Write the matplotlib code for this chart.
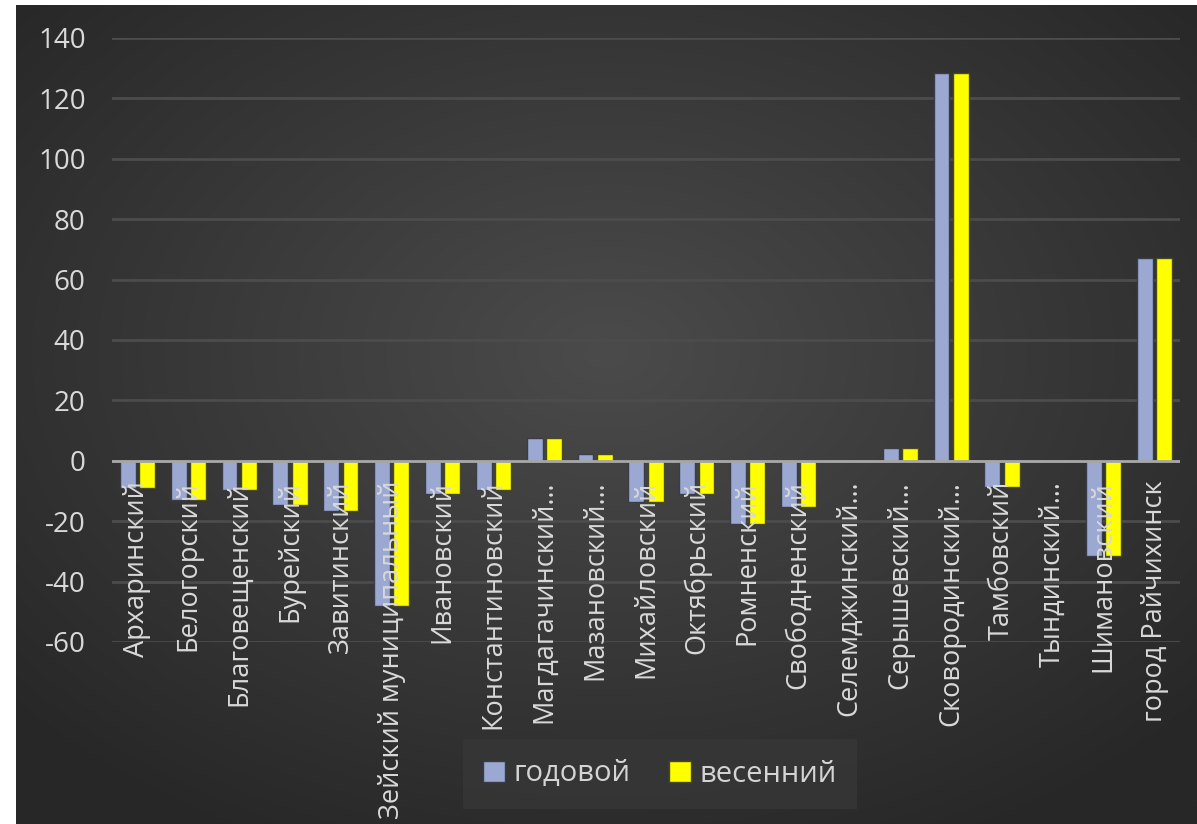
import numpy as np
from matplotlib import pyplot as plt

# районы (подписи категорий)
districts = ["Архаринский", "Белогорский", "Благовещенский", "Бурейский",
             "Завитинский", "Зейский муниципальный", "Ивановский",
             "Константиновский", "Магдагачинский…", "Мазановский…",
             "Михайловский", "Октябрьский", "Ромненский", "Свободненский",
             "Селемджинский…", "Серышевский…", "Сковородинский…", "Тамбовский",
             "Тындинский…", "Шимановский", "город Райчихинск"]

# значения рядов
godovoy = [-9.0, -13.1, -9.8, -14.6, -16.5, -48.0, -11.0, -9.8, 7.7, 2.1,
           -13.5, -11.0, -20.8, -15.2, 0.0, 4.1, 128.4, -8.8, 0.0, -31.4, 67.3]
vesenniy = [-9.0, -13.1, -9.8, -14.6, -16.5, -48.0, -11.0, -9.8, 7.7, 2.1,
            -13.5, -11.0, -20.8, -15.2, 0.0, 4.1, 128.4, -8.8, 0.0, -31.4, 67.3]

series_names = ["годовой", "весенний"]
y_ticks = [-60, -40, -20, 0, 20, 40, 60, 80, 100, 120, 140]

W, H = 1197, 824
plt.rcParams['font.family'] = ['Open Sans', 'DejaVu Sans']
plt.rcParams['axes.unicode_minus'] = False
fig = plt.figure(figsize=(W / 100, H / 100), dpi=100, facecolor='white')

# dark radial background of the chart area
bg = fig.add_axes([16 / W, 0, 1 - 16 / W, 1 - 5 / H], zorder=-1)
gx, gy = np.meshgrid(np.linspace(-1, 1, 400), np.linspace(-1, 1, 300))
r = np.clip(np.sqrt(gx ** 2 + (gy + 0.15) ** 2) / 1.35, 0, 1)
shade = (75 - 36 * r) / 255.0
bg.imshow(np.dstack([shade, shade, shade]), aspect='auto', extent=[0, 1, 0, 1],
          interpolation='bilinear')
bg.set_axis_off()

ax = fig.add_axes([112 / W, 1 - 642 / H, (1180 - 112) / W, (642 - 38) / H])
ax.set_facecolor('none')

x = np.arange(len(districts))
w = 0.31
off = 0.19
b1 = ax.bar(x - off, godovoy, w, color='#9aa8d2', edgecolor='#3a3d47',
            linewidth=1, label=series_names[0], zorder=3)
b2 = ax.bar(x + off, vesenniy, w, color='#ffff00', edgecolor='#4a4a20',
            linewidth=1, label=series_names[1], zorder=3)

ax.set_xlim(-0.5, len(districts) - 0.5)
ax.set_ylim(-60, 140)
ax.set_yticks(y_ticks)
ax.grid(axis='y', color='#4c4c4c', linewidth=2, zorder=0)
ax.axhline(0, color='#a8a8a8', linewidth=2, zorder=4)
ax.tick_params(axis='y', length=0, pad=19, labelsize=20, labelcolor='#d9d9d9')
ax.set_xticks([])
for s in ax.spines.values():
    s.set_visible(False)

# category labels just under the zero line
for i, name in enumerate(districts):
    ax.annotate(name, xy=(i, 0), xytext=(0, -20), textcoords='offset pixels',
                rotation=90, ha='center', va='top', fontsize=19.5,
                color='#d9d9d9', zorder=5, annotation_clip=False)

leg = fig.legend(handles=[b1, b2], loc='center', ncol=2,
                 bbox_to_anchor=(660 / W, 1 - 774 / H), fontsize=21,
                 frameon=True, facecolor='#383838', edgecolor='none',
                 framealpha=0.7, fancybox=False, handlelength=0.75,
                 handleheight=0.75, handletextpad=0.3, columnspacing=1.3,
                 borderpad=0.7)
for t in leg.get_texts():
    t.set_color('#d4d4d4')

fig.savefig('out.png', dpi=100, facecolor='white')
